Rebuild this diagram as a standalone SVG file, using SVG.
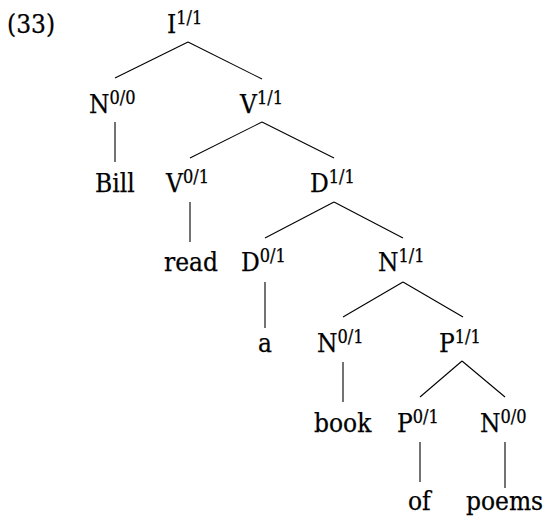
<svg xmlns="http://www.w3.org/2000/svg" width="545" height="519" viewBox="0 0 545 519">
<style>
text{font-family:"DejaVu Serif Condensed","DejaVu Serif",serif;font-stretch:condensed;font-size:26px;fill:#000;stroke:#000;stroke-width:0.25}
.s{font-size:18px}
.e line{stroke:#000;stroke-width:1.1}
</style>
<rect width="545" height="519" fill="#fff"/>
<text id="ex" x="7" y="33">(33)</text>
<g id="I11"><text x="167" y="33">I<tspan class="s" dy="-9">1/1</tspan></text></g>
<g id="N00a"><text x="89" y="113">N<tspan class="s" dy="-9">0/0</tspan></text></g>
<g id="V11"><text x="240" y="113">V<tspan class="s" dy="-9">1/1</tspan></text></g>
<g id="Bill"><text x="95" y="192">Bill</text></g>
<g id="V01"><text x="166" y="192">V<tspan class="s" dy="-9">0/1</tspan></text></g>
<g id="D11"><text x="310" y="192">D<tspan class="s" dy="-9">1/1</tspan></text></g>
<g id="read"><text x="164" y="271">read</text></g>
<g id="D01"><text x="241" y="271">D<tspan class="s" dy="-9">0/1</tspan></text></g>
<g id="N11"><text x="378" y="271">N<tspan class="s" dy="-9">1/1</tspan></text></g>
<g id="a"><text x="258" y="352">a</text></g>
<g id="N01"><text x="317" y="352">N<tspan class="s" dy="-9">0/1</tspan></text></g>
<g id="P11"><text x="439" y="352">P<tspan class="s" dy="-9">1/1</tspan></text></g>
<g id="book"><text x="314" y="432">book</text></g>
<g id="P01"><text x="397" y="432">P<tspan class="s" dy="-9">0/1</tspan></text></g>
<g id="N00b"><text x="480" y="432">N<tspan class="s" dy="-9">0/0</tspan></text></g>
<g id="of"><text x="408" y="510">of</text></g>
<g id="poems"><text x="466" y="510">poems</text></g>
<g id="edges" class="e">
<line x1="188" y1="42" x2="115" y2="78"/>
<line x1="188" y1="42" x2="262" y2="79"/>
<line x1="115" y1="122" x2="115" y2="162"/>
<line x1="262" y1="122" x2="190" y2="158"/>
<line x1="262" y1="122" x2="334" y2="158"/>
<line x1="190" y1="202" x2="190" y2="242"/>
<line x1="334" y1="202" x2="265" y2="238"/>
<line x1="334" y1="202" x2="403" y2="238"/>
<line x1="265" y1="282" x2="265" y2="328"/>
<line x1="403" y1="282" x2="343" y2="317"/>
<line x1="403" y1="282" x2="463" y2="317"/>
<line x1="343" y1="362" x2="343" y2="402"/>
<line x1="462" y1="361" x2="420" y2="397"/>
<line x1="462" y1="361" x2="505" y2="397"/>
<line x1="420" y1="442" x2="420" y2="482"/>
<line x1="505" y1="442" x2="505" y2="488"/>
</g>
</svg>
